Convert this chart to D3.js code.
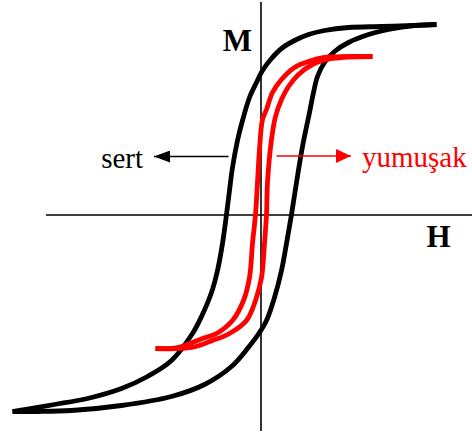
<!DOCTYPE html>
<html>
<head>
<meta charset="utf-8">
<script src="https://cdn.jsdelivr.net/npm/d3@7"></script>
<style>
    html, body { margin: 0; padding: 0; background: #fff; }
    svg { display: block; }
</style>
</head>
<body>
<svg id="chart"></svg>
<script>
// Hysteresis loops, H along x and M along y (arbitrary units)
const hardDown = [
    [17.6, 19.0], [15.4, 18.9], [12.1, 18.8], [8.8, 18.7], [6.4, 18.4], [4.8, 18.0],
    [3.4, 17.4], [2.1, 16.6], [1.1, 15.6], [0.2, 14.4], [-0.4, 13.2], [-1.1, 11.7],
    [-1.8, 9.4], [-2.3, 7.4], [-2.8, 4.7], [-3.1, 2.4], [-3.4, 0], [-3.8, -2.9],
    [-4.3, -5.6], [-4.9, -7.8], [-5.9, -10.2], [-6.8, -11.9], [-8.9, -14.6],
    [-11.3, -16.2], [-13.9, -17.4], [-17.3, -18.4], [-20.6, -19.0], [-23.6, -19.5], [-24.8, -19.7]
];
const hardUp = [
    [-24.8, -19.7], [-22.3, -19.7], [-18.9, -19.6], [-13.9, -19.1], [-8.9, -18.2],
    [-5.6, -17.0], [-2.9, -15.2], [-1.3, -13.4], [-0.1, -11.8], [0.6, -10.6],
    [1.4, -8.3], [2.1, -5.6], [2.6, -2.9], [3.1, 0], [3.6, 3.2], [4.2, 6.8],
    [4.9, 10.2], [5.3, 12.2], [5.7, 13.8], [6.4, 15.2], [7.4, 16.3], [8.8, 17.2],
    [10.8, 18.0], [12.8, 18.5], [15.4, 18.9], [17.6, 19.0]
];
const softDown = [
    [11.2, 15.8], [8.8, 15.8], [6.4, 15.7], [4.8, 15.3], [3.4, 14.7], [2.1, 13.5],
    [1.2, 12.2], [0.6, 10.5], [0.2, 9.5], [-0.1, 6.5], [-0.3, 3.2], [-0.5, 0],
    [-0.8, -2.9], [-1.1, -6.3], [-1.7, -8.6], [-2.8, -10.6], [-4.4, -11.9],
    [-5.8, -12.4], [-8.3, -13.3], [-10.5, -13.4]
];
const softUp = [
    [-10.5, -13.4], [-6.9, -13.3], [-4.8, -12.6], [-3.1, -11.9], [-1.4, -10.6],
    [-0.5, -8.6], [0.1, -6.3], [0.4, -2.9], [0.6, 0], [0.7, 3.2], [1.1, 7.5],
    [1.5, 9.8], [2.1, 11.5], [2.8, 12.8], [3.8, 14.0], [5.2, 15.0], [7.2, 15.6], [11.2, 15.8]
];

// axis extents and annotations
const hAxisExtent = [-21.5, 21.2];
const mAxisExtent = [-21.6, 21.3];
const hardArrow = { from: [-3.2, 5.8], to: [-10.65, 5.8], label: "sert" };
const softArrow = { from: [1.6, 5.85], to: [9.05, 5.85], label: "yumuşak" };
const axisLabels = [
    { text: "M", at: [-3.78, 16.35] },
    { text: "H", at: [16.6, -3.2] }
];

const width = 472;
const height = 434;

const svg = d3.select("#chart")
    .attr("width", width)
    .attr("height", height);

const x = d3.scaleLinear().domain([-25, 21]).range([10.5, 470.5]);
const y = d3.scaleLinear().domain([-20, 21.45]).range([414.5, 0]);

const defs = svg.append("defs");
const addHead = (id, color, len, half) => {
    defs.append("marker")
        .attr("id", id)
        .attr("viewBox", `0 ${-half} ${len} ${half * 2}`)
        .attr("refX", len)
        .attr("refY", 0)
        .attr("markerUnits", "userSpaceOnUse")
        .attr("markerWidth", len)
        .attr("markerHeight", half * 2)
        .attr("orient", "auto")
        .append("path")
        .attr("d", `M0,${-half}L${len},0L0,${half}Z`)
        .attr("fill", color);
};
addHead("head-black", "#000", 16, 6);
addHead("head-red", "#ff0000", 15, 7);

// axes without ticks, just the domain lines
const hAxisScale = x.copy().domain(hAxisExtent).range(hAxisExtent.map(x));
const mAxisScale = y.copy().domain(mAxisExtent).range(mAxisExtent.map(y));

svg.append("g")
    .attr("transform", `translate(0,${y(0)})`)
    .call(d3.axisBottom(hAxisScale).tickValues([]).tickSizeOuter(0))
    .select(".domain")
    .attr("stroke", "#000")
    .attr("stroke-width", 1.6);

svg.append("g")
    .attr("transform", `translate(${x(0)},0)`)
    .call(d3.axisLeft(mAxisScale).tickValues([]).tickSizeOuter(0))
    .select(".domain")
    .attr("stroke", "#000")
    .attr("stroke-width", 1.6);

const line = d3.line()
    .x((d) => x(d[0]))
    .y((d) => y(d[1]))
    .curve(d3.curveCatmullRom.alpha(0.5));

const loops = [
    { pts: hardDown, color: "#000" },
    { pts: hardUp, color: "#000" },
    { pts: softDown, color: "#ff0000" },
    { pts: softUp, color: "#ff0000" }
];

svg.selectAll(".loop")
    .data(loops)
    .enter()
    .append("path")
    .attr("class", "loop")
    .attr("d", (d) => line(d.pts))
    .attr("fill", "none")
    .attr("stroke", (d) => d.color)
    .attr("stroke-width", 4.8)
    .attr("stroke-linecap", "butt")
    .attr("stroke-linejoin", "round");

// arrows with labels
const drawArrow = (a, color, marker, anchor, dx) => {
    svg.append("line")
        .attr("x1", x(a.from[0]))
        .attr("y1", y(a.from[1]))
        .attr("x2", x(a.to[0]))
        .attr("y2", y(a.to[1]))
        .attr("stroke", color)
        .attr("stroke-width", 1.6)
        .attr("marker-end", `url(#${marker})`);
    svg.append("text")
        .attr("x", x(a.to[0]) + dx)
        .attr("y", y(a.to[1]) + 11)
        .attr("text-anchor", anchor)
        .attr("font-family", "'Liberation Serif', 'Times New Roman', serif")
        .attr("font-size", 29)
        .attr("fill", color)
        .text(a.label);
};
drawArrow(hardArrow, "#000", "head-black", "end", -11);
drawArrow(softArrow, "#ff0000", "head-red", "start", 11);

svg.selectAll(".axis-label")
    .data(axisLabels)
    .enter()
    .append("text")
    .attr("class", "axis-label")
    .attr("x", (d) => x(d.at[0]))
    .attr("y", (d) => y(d.at[1]))
    .attr("font-family", "'Liberation Serif', 'Times New Roman', serif")
    .attr("font-weight", "bold")
    .attr("font-size", 31)
    .attr("fill", "#000")
    .text((d) => d.text);
</script>
</body>
</html>
